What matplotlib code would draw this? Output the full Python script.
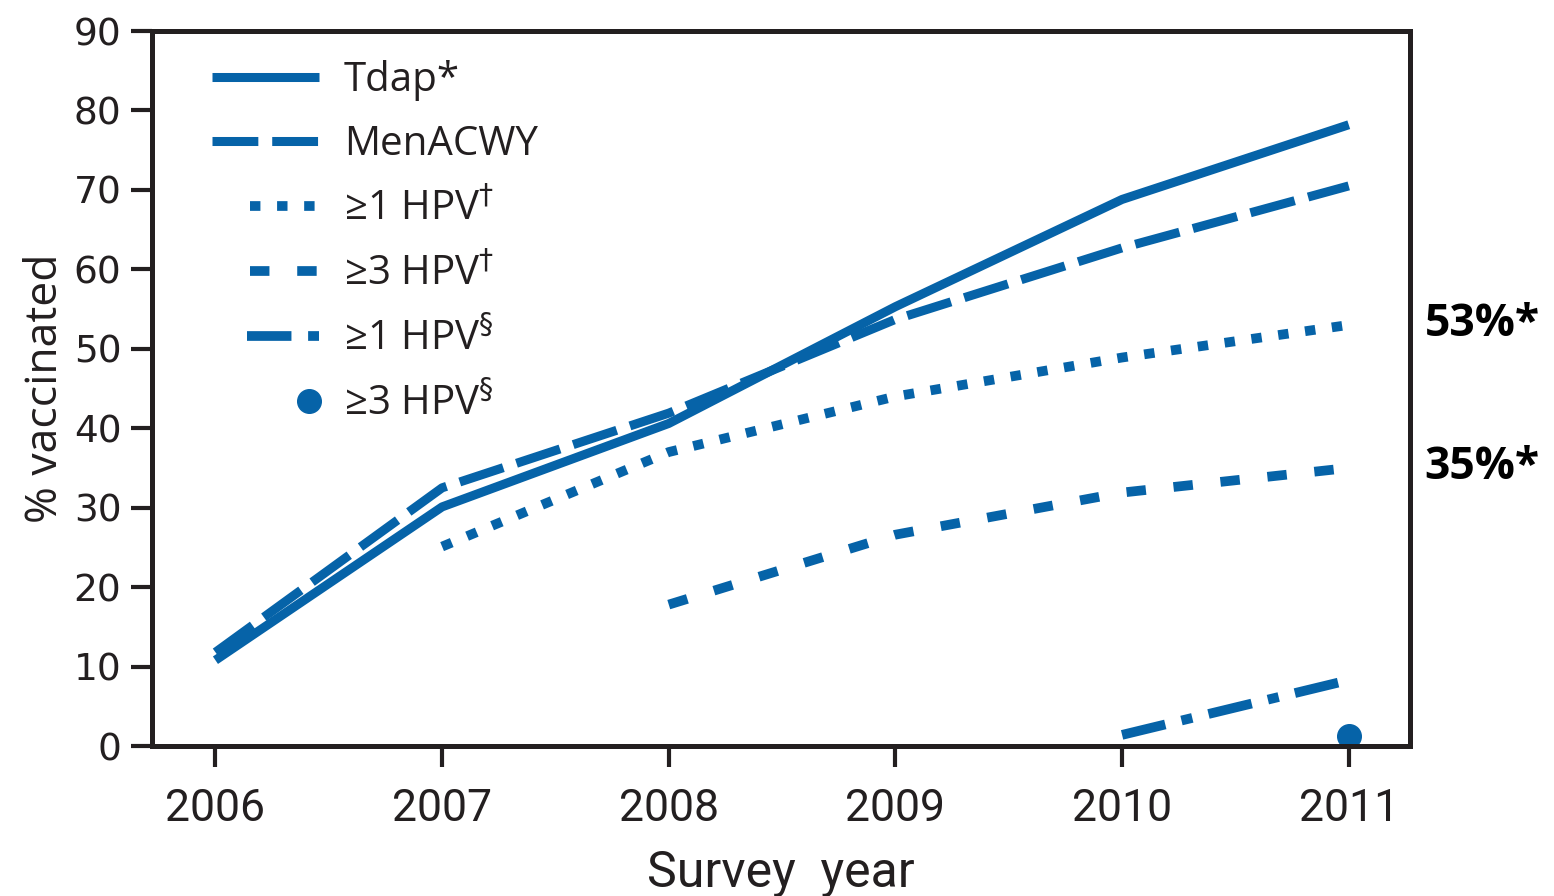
import matplotlib
matplotlib.use("Agg")
import matplotlib.pyplot as plt
from matplotlib.legend_handler import HandlerLine2D
import numpy as np

# Vaccination coverage among adolescents by survey year
years = [2006, 2007, 2008, 2009, 2010, 2011]
tdap = [10.8, 30.1, 40.6, 55.3, 68.8, 78.2]
menacwy = [11.8, 32.5, 41.9, 53.7, 62.7, 70.5]
hpv1_girls_years = [2007, 2008, 2009, 2010, 2011]
hpv1_girls = [25.1, 37.0, 44.0, 48.9, 53.0]
hpv3_girls_years = [2008, 2009, 2010, 2011]
hpv3_girls = [17.8, 26.6, 31.9, 35.0]
hpv1_boys_years = [2010, 2011]
hpv1_boys = [1.4, 8.3]
hpv3_boys_years = [2011]
hpv3_boys = [1.3]

labels = ["Tdap*", "MenACWY", "\u22651 HPV$^{\\dagger}$", "\u22653 HPV$^{\\dagger}$",
          "\u22651 HPV$^{\\S}$", "\u22653 HPV$^{\\S}$"]
end_labels = ["53%*", "35%*"]
end_values = [hpv1_girls[-1], hpv3_girls[-1]]

blue = "#0663a8"
ink = "#231f20"
narrow = ["Liberation Sans Narrow", "DejaVu Sans Condensed", "Roboto"]


class RightHandler(HandlerLine2D):
    """Legend sample that only fills the right part of the handle box."""

    def __init__(self, frac, **kw):
        self.frac = frac
        super().__init__(**kw)

    def get_xdata(self, legend, xdescent, ydescent, width, height, fontsize):
        x1 = -xdescent + width
        x0 = x1 - self.frac * width
        return np.array([x0, x1]), np.array([0.5 * (x0 + x1)])


plt.rcParams["lines.scale_dashes"] = False
plt.rcParams["font.family"] = ["Open Sans", "DejaVu Sans"]

fig = plt.figure(figsize=(15.54, 8.96), dpi=100)
ax = fig.add_axes([0.0978, 0.1674, 0.8095, 0.798])

lw = 6.5
l1, = ax.plot(years, tdap, color=blue, lw=lw, solid_capstyle="butt", label=labels[0])
l2, = ax.plot(years, menacwy, color=blue, lw=lw, dashes=(33, 10), dash_capstyle="butt",
              label=labels[1])
l3, = ax.plot(hpv1_girls_years, hpv1_girls, color=blue, lw=7, dashes=(7.5, 12),
              dash_capstyle="butt", label=labels[2])
l4, = ax.plot(hpv3_girls_years, hpv3_girls, color=blue, lw=7, dashes=(14, 20),
              dash_capstyle="butt", label=labels[3])
l5, = ax.plot(hpv1_boys_years, hpv1_boys, color=blue, lw=7, dashes=(32, 12, 8, 12),
              dash_capstyle="butt", label=labels[4])
l6, = ax.plot(hpv3_boys_years, hpv3_boys, color=blue, ls="none", marker="o",
              markersize=17, clip_on=False, label=labels[5])

for v, t in zip(end_values, end_labels):
    ax.text(2011.335, v, t, fontsize=32, fontweight="bold", color="black",
            va="center", ha="left", clip_on=False)

ax.set_xlim(2005.72, 2011.27)
ax.set_ylim(0, 90)
ax.set_xticks(years)
ax.set_yticks(np.arange(0, 91, 10))

for s in ax.spines.values():
    s.set_linewidth(3.6)
    s.set_color(ink)

ax.tick_params(axis="both", direction="out", length=15, width=3, color=ink)
ax.tick_params(axis="y", pad=7)
ax.tick_params(axis="x", pad=15)
for t in ax.get_yticklabels():
    t.set_fontfamily("DejaVu Sans")
    t.set_fontsize(27)
    t.set_color(ink)
for t in ax.get_xticklabels():
    t.set_fontfamily(narrow)
    t.set_fontsize(32)
    t.set_color(ink)

ax.set_xlabel("Survey  year", fontsize=36, color=ink, fontfamily=narrow, labelpad=14)
ax.set_ylabel("% vaccinated", fontsize=32, color=ink, labelpad=4)

fracs = [1.0, 1.0, 0.65, 0.65, 0.68, 0.19]
handles = [l1, l2, l3, l4, l5, l6]
leg = ax.legend(handles, labels, loc="upper left", bbox_to_anchor=(0.048, 0.96),
                frameon=False, fontsize=29, handlelength=2.65, handletextpad=0.62,
                labelspacing=0.6, borderpad=0, borderaxespad=0,
                handler_map={h: RightHandler(f) for h, f in zip(handles, fracs)})
for t in leg.get_texts():
    t.set_color(ink)

fig.savefig("out.png", dpi=100)
